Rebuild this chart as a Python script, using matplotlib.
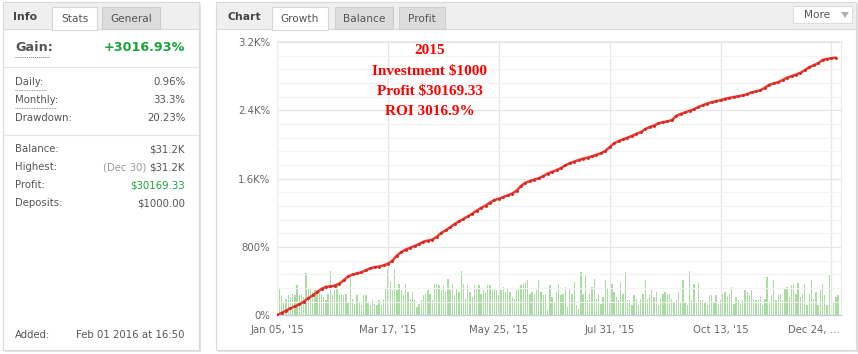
import matplotlib
matplotlib.use('Agg')
import matplotlib.pyplot as plt
from matplotlib.patches import Rectangle, Polygon
import matplotlib.transforms as mtransforms
import numpy as np

# ---------------- data ----------------
tick_labels = ["Jan 05, '15", "Mar 17, '15", "May 25, '15", "Jul 31, '15", "Oct 13, '15", "Dec 24, …"]
ytick_values = [0, 800, 1600, 2400, 3200]
ytick_labels = ["0%", "800%", "1.6K%", "2.4K%", "3.2K%"]

# cumulative growth (%) read every second trading day
growth_pct = [
    4, 28, 55, 82, 105, 128, 160, 200, 232, 270,
    310, 333, 338, 348, 370, 410, 455, 478, 490, 503,
    528, 550, 565, 570, 585, 605, 640, 700, 740, 770,
    792, 811, 835, 862, 875, 886, 920, 965, 995, 1030,
    1068, 1100, 1128, 1158, 1190, 1225, 1258, 1285, 1320, 1350,
    1365, 1385, 1405, 1425, 1460, 1515, 1553, 1572, 1590, 1605,
    1630, 1660, 1680, 1700, 1725, 1755, 1782, 1800, 1818, 1835,
    1846, 1862, 1880, 1897, 1925, 1970, 2015, 2040, 2060, 2080,
    2100, 2125, 2145, 2180, 2205, 2222, 2248, 2262, 2270, 2285,
    2335, 2358, 2375, 2395, 2412, 2440, 2460, 2480, 2495, 2508,
    2520, 2535, 2546, 2556, 2565, 2575, 2590, 2610, 2622, 2635,
    2665, 2700, 2715, 2730, 2755, 2782, 2800, 2818, 2840, 2870,
    2905, 2928, 2950, 2990, 3002, 3010, 3016.93,
]

# daily result bars (relative height), one per trading day
daily_bars = [
    45, 83, 60, 40, 50, 60, 55, 65, 60, 90,
    60, 65, 55, 128, 80, 80, 70, 75, 75, 70,
    65, 55, 45, 65, 133, 60, 75, 90, 60, 65,
    60, 65, 40, 115, 50, 35, 60, 40, 30, 60,
    60, 40, 30, 45, 35, 30, 45, 30, 50, 80,
    138, 100, 75, 140, 75, 95, 75, 60, 95, 70,
    50, 70, 45, 25, 35, 45, 60, 65, 75, 65,
    45, 95, 95, 90, 75, 90, 70, 110, 75, 95,
    60, 80, 70, 133, 95, 50, 90, 70, 55, 90,
    80, 90, 65, 75, 70, 90, 90, 75, 80, 75,
    60, 75, 85, 70, 80, 70,
    55, 50, 75, 80, 90, 95, 100, 105, 65, 70,
    65, 75, 107, 70, 60, 65, 15, 90, 55, 40,
    70, 95, 60, 65, 85, 25, 80, 65, 100, 30,
    18, 130, 65, 125, 45, 65, 85, 108, 50, 60,
    35, 55, 107, 80, 40, 95, 70, 55, 45, 100,
    65, 130, 45, 45, 30, 60, 50, 30, 50, 65,
    105, 50, 60, 75, 55, 70, 30, 50, 65, 70,
    65, 65, 50, 40, 45, 70, 40, 105, 40, 30,
    133, 45, 95, 40, 98, 45, 45, 40, 30, 60,
    60, 40, 60, 35, 45, 65, 70, 55, 65, 85,
    35, 55, 45, 35, 45, 75, 70, 60, 75, 50,
    45, 45, 55, 30, 50, 115, 40, 60, 105, 45,
    60, 65, 45, 80, 85, 55, 90, 95, 65, 98,
    55, 65, 95, 30, 65, 105, 50, 70, 30, 75,
    95, 60, 30, 122, 25, 40, 55, 60,
]

info_rows_1 = [("Daily:", "0.96%", True), ("Monthly:", "33.3%", True), ("Drawdown:", "20.23%", False)]
info_rows_2 = [("Balance:", "$31.2K"), ("Highest:", "$31.2K"), ("Profit:", "$30169.33"), ("Deposits:", "$1000.00")]
gain_text = "+3016.93%"
highest_date = "(Dec 30) "
added_text = "Feb 01 2016 at 16:50"
note_lines = ["2015", "Investment $1000", "Profit $30169.33", "ROI 3016.9%"]

# ---------------- figure ----------------
W, H = 858, 354
fig = plt.figure(figsize=(W / 100, H / 100), dpi=100)
fig.patch.set_facecolor('white')
bg = fig.add_axes([0, 0, 1, 1])
bg.set_xlim(0, W)
bg.set_ylim(H, 0)
bg.axis('off')

FONT = 'DejaVu Sans'
GRAY = '#555555'
GREEN = '#1aa33a'


def rect(x0, y0, x1, y1, fc, ec='none', lw=0.8, z=1):
    bg.add_patch(Rectangle((x0, y0), x1 - x0, y1 - y0, fc=fc, ec=ec, lw=lw, zorder=z))


def txt(x, y, s, ha='left', size=7.3, color=GRAY, weight='normal', family=FONT, z=5):
    return bg.text(x, y, s, ha=ha, va='center', fontsize=size, color=color,
                   fontweight=weight, family=family, zorder=z)


def panel(x0, x1):
    rect(x0 + 2, 4, x1 + 2, 352, '#e4e4e4', z=0)
    rect(x0, 2, x1, 350, 'white', ec='#d9d9d9', z=1)
    rect(x0 + 0.5, 2.5, x1 - 0.5, 29, '#efefef', z=2)
    bg.plot([x0, x1], [29, 29], color='#dadada', lw=0.8, zorder=3)


def tab(x0, x1, label, active):
    if active:
        rect(x0, 7, x1, 29.6, 'white', ec='#d6d6d6', z=3)
        rect(x0 + 0.6, 28.5, x1 - 0.6, 30.2, 'white', z=4)
    else:
        rect(x0, 7, x1, 29, '#dcdcdc', ec='#cecece', z=3)
    txt((x0 + x1) / 2, 18.5, label, ha='center', size=7.6, color='#555555')


# left panel
panel(3, 199)
txt(13, 17.5, "Info", size=7.8, weight='bold', color='#444444')
tab(52, 97, "Stats", True)
tab(102, 160, "General", False)

txt(15, 47.5, "Gain:", size=9.2, weight='bold', color='#555555')
bg.plot([15, 50], [57, 57], color='#777777', lw=0.7, ls=(0, (1, 1)), zorder=5)
txt(185, 47.5, gain_text, ha='right', size=9.2, weight='bold', color=GREEN)
bg.plot([4, 198], [67, 67], color='#e6e6e6', lw=0.8, zorder=3)

y = 82
for lab, val, ul in info_rows_1:
    txt(15, y, lab)
    txt(185, y, val, ha='right')
    if ul:
        bg.plot([15, 15 + 6.6 * len(lab) * 0.78], [y + 8, y + 8], color='#777777', lw=0.6,
                ls=(0, (1, 1)), zorder=5)
    y += 18
bg.plot([4, 198], [135, 135], color='#e6e6e6', lw=0.8, zorder=3)

y = 149
for lab, val in info_rows_2:
    txt(15, y, lab)
    col = GREEN if lab == "Profit:" else GRAY
    t = txt(185, y, val, ha='right', color=col)
    if lab == "Highest:":
        fig.canvas.draw()
        bb = t.get_window_extent()
        xl = bg.transData.inverted().transform((bb.x0, bb.y0))[0]
        txt(xl, y, highest_date, ha='right', color='#9a9a9a')
    y += 18

txt(15, 335, "Added:")
txt(185, 335, added_text, ha='right')

# right panel
panel(216, 856)
txt(228, 17.5, "Chart", size=7.8, weight='bold', color='#444444')
tab(272, 328, "Growth", True)
tab(335, 393, "Balance", False)
tab(399, 445, "Profit", False)
rect(793, 6, 852, 23, 'white', ec='#dddddd', z=3)
txt(817, 15, "More", ha='center', size=7.6, color='#555555')
bg.add_patch(Polygon([[841, 12], [849, 12], [845, 18]], closed=True, fc='#b0b0b0', ec='none', zorder=5))

# ---------------- chart ----------------
L, R, T, B = 276.5, 840.5, 41.0, 315.3
rect_ax = [L / W, (H - B) / H, (R - L) / W, (B - T) / H]
n = len(daily_bars)
x_bars = np.arange(n)
x_line = np.arange(len(growth_pct)) * 2
xmin, xmax = -0.3, n + 0.1

axb = fig.add_axes(rect_ax)
axb.set_zorder(2)
axb.set_xlim(xmin, xmax)
axb.set_ylim(0, 823)
axb.bar(x_bars, daily_bars, width=0.6, color='#a9dca1', linewidth=0)
axb.axis('off')

ax = fig.add_axes(rect_ax)
ax.set_zorder(3)
ax.patch.set_visible(False)
ax.set_xlim(xmin, xmax)
ax.set_ylim(0, 3212)
ax.set_yticks(ytick_values)
ax.set_yticklabels(ytick_labels)
ax.set_yticks(np.arange(0, 3201, 160), minor=True)
ax.set_xticks(np.arange(len(tick_labels)) * 50)
ax.set_xticklabels(tick_labels)
ax.tick_params(axis='both', which='both', length=0, labelsize=7.3, labelcolor='#666666')
ax.tick_params(axis='y', pad=4.5)
ax.tick_params(axis='x', pad=7)
for lab in ax.get_xticklabels() + ax.get_yticklabels():
    lab.set_family(FONT)
last = ax.get_xticklabels()[-1]
last.set_horizontalalignment('right')
last.set_transform(last.get_transform() + mtransforms.ScaledTranslation(8 / 100, 0, fig.dpi_scale_trans))
ax.grid(True, which='major', color='#e6e6e6', lw=0.9)
ax.grid(True, which='minor', axis='y', color='#f3f3f3', lw=0.8)
ax.set_axisbelow(True)
for s in ['top', 'right', 'left']:
    ax.spines[s].set_color('#ececec')
    ax.spines[s].set_linewidth(0.8)
ax.spines['bottom'].set_color('#c0d0e0')
ax.spines['bottom'].set_linewidth(1.0)

axl = fig.add_axes(rect_ax)
axl.set_zorder(4)
axl.patch.set_visible(False)
axl.set_xlim(xmin, xmax)
axl.set_ylim(0, 3212)
axl.axis('off')
axl.plot(x_line, growth_pct, color='#ee3a33', lw=1.8, marker='o', ms=1.1,
         mfc='#cf2a22', mec='#cf2a22', solid_capstyle='round', zorder=5)

# annotation (above the chart)
for i, s in enumerate(note_lines):
    fig.text(430 / W, 1 - (51 + 20 * i) / H, s, ha='center', va='center', fontsize=11,
             fontweight='bold', color='#ff0000', family='Liberation Serif', zorder=20)

fig.savefig('out.png', dpi=100, facecolor='white')
